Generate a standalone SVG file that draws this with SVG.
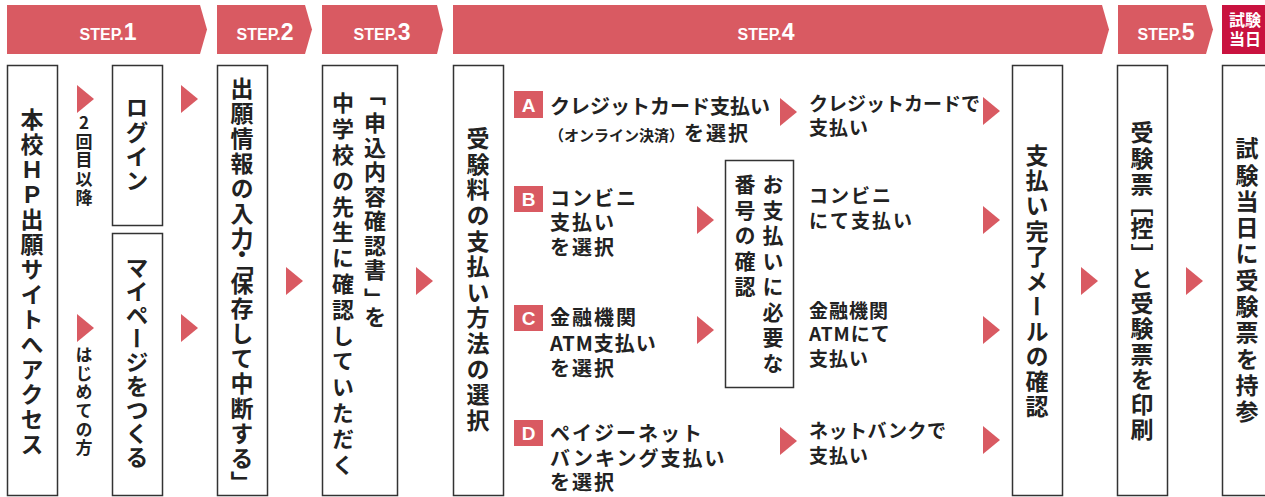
<svg xmlns="http://www.w3.org/2000/svg" xmlns:xlink="http://www.w3.org/1999/xlink" width="1265" height="497" viewBox="0 0 1265 497">
<style>
.hdr{fill:#d95a62}
.hdr2{fill:#c9123f}
.ht{fill:#fff;font-family:"Liberation Sans",Arial,sans-serif;font-weight:700;text-anchor:middle}
.hs{font-size:16px}
.hn{font-size:23px}
.jp{font-family:"Noto Sans CJK JP","Noto Sans",sans-serif;font-weight:700;fill:#222}
.box{fill:#fff;stroke:#333;stroke-width:1.5}
.v{writing-mode:vertical-rl;font-size:23px}
.up{text-orientation:upright}
.h20{font-size:20px}
.h19{font-size:19px}
.badge{fill:#d95a62}
.bt{fill:#fff;font-family:"Liberation Sans",Arial,sans-serif;font-weight:700;font-size:19px;text-anchor:middle}
.arr{fill:#d95a62}
</style>
<defs>
<path id="tri" d="M0 0 L17 14 L0 28 Z"/>
</defs>

<g id="header">
<path class="hdr" d="M7 5 H200 L207 29.5 L200 54 H7 Z"/>
<text class="ht" x="108" y="40"><tspan class="hs">STEP.</tspan><tspan class="hn">1</tspan></text>
<path class="hdr" d="M217 5 H305 L312 29.5 L305 54 H217 Z"/>
<text class="ht" x="265" y="40"><tspan class="hs">STEP.</tspan><tspan class="hn">2</tspan></text>
<path class="hdr" d="M322 5 H437 L443 29.5 L437 54 H322 Z"/>
<text class="ht" x="382" y="40"><tspan class="hs">STEP.</tspan><tspan class="hn">3</tspan></text>
<path class="hdr" d="M453 5 H1102 L1109 29.5 L1102 54 H453 Z"/>
<text class="ht" x="766" y="40"><tspan class="hs">STEP.</tspan><tspan class="hn">4</tspan></text>
<path class="hdr" d="M1118 5 H1206 L1213 29.5 L1206 54 H1118 Z"/>
<text class="ht" x="1166" y="40"><tspan class="hs">STEP.</tspan><tspan class="hn">5</tspan></text>
<rect class="hdr2" x="1222" y="5" width="45" height="49"/>
<text class="jp" style="fill:#fff;font-size:16px;text-anchor:middle"><tspan x="1245" y="26">試験</tspan><tspan x="1245" y="45">当日</tspan></text>
</g>

<g id="node-access">
<rect class="box" x="7.5" y="65.5" width="50" height="430"/>
<text class="jp v up" x="32" y="108 133 158 183 208 233 258 283 308 333 358 383 408 433">本校ＨＰ出願サイトへアクセス</text>
</g>
<g id="label-2kaime">
<text class="jp v up" x="84" y="114 132.7 151.4 170.1 188.8" style="font-size:17px">2回目以降</text>
</g>
<g id="label-hajimete">
<text class="jp v" x="84" y="346 364.7 383.4 402.1 420.8 439.5" style="font-size:17px">はじめての方</text>
</g>
<g id="node-login">
<rect class="box" x="112.5" y="65.5" width="50" height="160"/>
<text class="jp v" x="137" y="96 120.3 144.6 168.9">ログイン</text>
</g>
<g id="node-mypage">
<rect class="box" x="112.5" y="233.5" width="50" height="262"/>
<text class="jp v" x="137" y="256 279.75 303.5 327.25 351 374.75 398.5 422.25 446">マイページをつくる</text>
</g>
<g id="node-input">
<rect class="box" x="217.5" y="65.5" width="50" height="430"/>
<text class="jp v" x="242" y="77 102 127 152 177 202 227 242.5 252 272 297 322 347 372 397 422 447 471">出願情報の入力・「保存して中断する」</text>
</g>
<g id="node-confirm">
<rect class="box" x="322.5" y="65.5" width="75" height="430"/>
<text class="jp v" x="375" y="83 112 136.5 161 185.5 210 234.5 259 288 306" style="font-size:22px">「申込内容確認書」を</text>
<text class="jp v" x="343" y="92 117.8 143.6 169.4 195.2 221 246.8 272.6 298.4 324.2 350 375.8 401.6 427.4 453.2" style="font-size:22px">中学校の先生に確認していただく</text>
</g>
<g id="node-payselect">
<rect class="box" x="453.5" y="65.5" width="50" height="430"/>
<text class="jp v" x="478" y="127 152.6 178.2 203.8 229.4 255 280.6 306.2 331.8 357.4 383 408.6">受験料の支払い方法の選択</text>
</g>

<g id="node-A">
<rect class="badge" x="514" y="91" width="29" height="27"/>
<text class="bt" x="528.5" y="111.5">A</text>
<text class="jp h20"><tspan x="550" y="114">クレジットカード支払い</tspan><tspan x="549" y="141" style="font-size:15px">（オンライン決済）</tspan><tspan letter-spacing="2">を選択</tspan></text>
</g>
<g id="node-B">
<rect class="badge" x="514" y="186" width="29" height="26"/>
<text class="bt" x="528.5" y="206">B</text>
<text class="jp h20" letter-spacing="2"><tspan x="550" y="206">コンビニ</tspan><tspan x="550" y="230">支払い</tspan><tspan x="550" y="255">を選択</tspan></text>
</g>
<g id="node-C">
<rect class="badge" x="514" y="305" width="29" height="26"/>
<text class="bt" x="528.5" y="325">C</text>
<text class="jp h20" letter-spacing="2"><tspan x="550" y="325">金融機関</tspan><tspan x="550" y="351" letter-spacing="1">ATM支払い</tspan><tspan x="550" y="376">を選択</tspan></text>
</g>
<g id="node-D">
<rect class="badge" x="514" y="420" width="29" height="26"/>
<text class="bt" x="528.5" y="440">D</text>
<text class="jp h20" letter-spacing="2"><tspan x="550" y="441">ペイジーネット</tspan><tspan x="550" y="466">バンキング支払い</tspan><tspan x="550" y="490">を選択</tspan></text>
</g>
<g id="node-number">
<rect class="box" x="725.5" y="160.5" width="68" height="227"/>
<text class="jp v" x="773" y="174 199.5 225 250.5 276 301.5 327 352.5" style="font-size:21px">お支払いに必要な</text>
<text class="jp v" x="745" y="174 199.5 225 250.5 276" style="font-size:21px">番号の確認</text>
</g>
<g id="node-payA">
<text class="jp h19"><tspan x="809" y="111">クレジットカードで</tspan><tspan x="809" y="135" letter-spacing="1">支払い</tspan></text>
</g>
<g id="node-payB">
<text class="jp h19" letter-spacing="2"><tspan x="809" y="203">コンビニ</tspan><tspan x="809" y="228">にて支払い</tspan></text>
</g>
<g id="node-payC">
<text class="jp h19" letter-spacing="1"><tspan x="809" y="318">金融機関</tspan><tspan x="809" y="341">ATMにて</tspan><tspan x="809" y="366">支払い</tspan></text>
</g>
<g id="node-payD">
<text class="jp h19"><tspan x="809" y="438" letter-spacing="0.5">ネットバンクで</tspan><tspan x="809" y="463" letter-spacing="1">支払い</tspan></text>
</g>
<g id="node-mail">
<rect class="box" x="1012.5" y="65.5" width="50" height="430"/>
<text class="jp v" x="1037" y="144 169.1 194.2 219.3 244.4 269.5 294.6 319.7 344.8 369.9 395">支払い完了メールの確認</text>
</g>
<g id="node-print">
<rect class="box" x="1117.5" y="65.5" width="50" height="430"/>
<text class="jp v" x="1142" y="121 147 173 193 217 244 267 292 317 343 368 393 418">受験票［控］と受験票を印刷</text>
</g>
<g id="node-exam">
<rect class="box" x="1222.5" y="65.5" width="50" height="430"/>
<text class="jp v" x="1247" y="137 163.3 189.6 215.9 242.2 268.5 294.8 321.1 347.4 373.7 400">試験当日に受験票を持参</text>
</g>

<g id="connectors" class="arr">
<use xlink:href="#tri" x="77" y="85"/>
<use xlink:href="#tri" x="77" y="314"/>
<use xlink:href="#tri" x="181" y="85"/>
<use xlink:href="#tri" x="181" y="314"/>
<use xlink:href="#tri" x="286" y="267"/>
<use xlink:href="#tri" x="416" y="267"/>
<use xlink:href="#tri" x="780" y="98"/>
<use xlink:href="#tri" x="697" y="206"/>
<use xlink:href="#tri" x="697" y="316"/>
<use xlink:href="#tri" x="780" y="427"/>
<use xlink:href="#tri" x="983" y="97"/>
<use xlink:href="#tri" x="983" y="206"/>
<use xlink:href="#tri" x="983" y="316"/>
<use xlink:href="#tri" x="983" y="426"/>
<use xlink:href="#tri" x="1081" y="267"/>
<use xlink:href="#tri" x="1186" y="267"/>
</g>
</svg>
